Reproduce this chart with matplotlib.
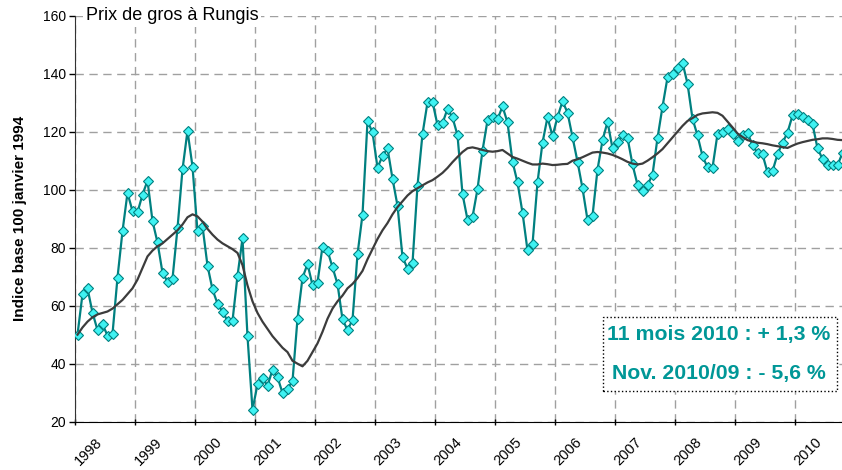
import numpy as np
import matplotlib.pyplot as plt
from matplotlib.patches import Rectangle

plt.rcParams['font.family'] = ['Liberation Sans', 'DejaVu Sans']

# indice mensuel, janvier 1998 -> novembre 2010
prix = [
    50, 64, 66, 57.6, 51.6, 53.6, 49.7, 50.3, 69.7, 85.7, 98.9, 92.6,          # 1998
    92.2, 98.3, 103.1, 89.2, 81.8, 71.4, 68.3, 69.3, 86.7, 107, 120.3, 108,   # 1999
    85.6, 87.4, 73.8, 65.6, 60.7, 57.9, 54.8, 54.8, 70.3, 83.2, 49.4, 24.1,   # 2000
    32.9, 35.2, 32.4, 37.9, 35.4, 29.9, 31.3, 34, 55.5, 69.6, 74.4, 67.1,     # 2001
    68, 80.4, 79, 73.2, 67.5, 55.3, 51.6, 55.1, 77.7, 91.4, 123.6, 119.8,     # 2002
    107.6, 111.6, 114.3, 103.8, 94.5, 76.8, 72.8, 74.7, 101.4, 119.2, 130.1, 130.3,  # 2003
    122.3, 122.9, 127.9, 124.9, 118.8, 98.5, 89.7, 90.6, 100.2, 113.5, 123.9, 124.9,  # 2004
    124.3, 128.7, 123.2, 109.7, 102.5, 92.1, 79.1, 81.2, 102.5, 116.2, 125, 118.5,    # 2005
    125, 130.5, 126.6, 118.2, 109.7, 100.5, 89.6, 91, 106.9, 117, 123.4, 114.3,       # 2006
    116.4, 118.7, 117.9, 108.7, 101.7, 99.7, 101.6, 105.2, 117.8, 128.6, 138.7, 139.9,  # 2007
    142.1, 143.8, 136.6, 124.5, 118.7, 111.6, 107.7, 107.6, 119.2, 120, 120.9, 119.2,   # 2008
    116.9, 118.8, 119.7, 115.3, 112.7, 112.2, 106, 106.4, 112.2, 116.2, 119.7, 125.6,   # 2009
    126.2, 125.2, 124.1, 122.6, 114.3, 110.6, 108.4, 108.4, 108.4, 112.7, 113,          # 2010
]

# courbe lissee
tendance = [
    50, 52.5, 54.5, 56, 57, 57.5, 58, 59, 60.5, 62, 64, 66,
    69, 73, 77, 79, 80.5, 81.5, 83, 84.5, 86, 88, 90.5, 91.5,
    90.8, 89, 86.5, 84.5, 82.8, 81.5, 80.5, 79.5, 78.2, 74, 67, 61.5,
    57.5, 54.5, 52, 49.5, 47.5, 45.5, 44, 41, 40, 39.1, 41, 44,
    47, 51, 55.5, 59, 61.5, 63.5, 66, 67.5, 69.5, 72, 76, 79.5,
    83, 86, 88.5, 91.5, 94, 96, 98, 99.5, 100.5, 101.5, 102.5, 103.3,
    104.5, 105.8, 107.5, 109.5, 111.3, 113, 114.3, 114.6, 114.2, 113.7, 113.3, 113.1,
    113.3, 113.7, 112.5, 111.3, 110.7, 110, 109.3, 108.7, 108.7, 109, 108.8, 108.5,
    108.6, 108.8, 108.9, 110, 110.5, 111.2, 112, 112.8, 113, 112.8, 112.5, 112,
    111.3, 110.5, 109.6, 109, 108.7, 109, 110, 111.2, 112.5, 114, 116, 118,
    120, 122, 123.7, 124.7, 125.8, 126.3, 126.5, 126.7, 126.5, 125.5, 123.5, 121.5,
    119.4, 118.2, 117.1, 116.6, 116.2, 116, 115.7, 115.3, 115, 114.7, 114.4, 115.2,
    115.9, 116.4, 116.8, 117.2, 117.4, 117.7, 117.7, 117.5, 117.2, 117.1, 117,
]

annees = [str(a) for a in range(1998, 2011)]

fig = plt.figure(figsize=(8.42, 4.70), dpi=100)
ax = fig.add_axes([75 / 842, 48.3 / 470, 775 / 842, 406 / 470])

mois = np.arange(len(prix))
ax.plot(mois, prix, color='#008080', lw=1.6, marker='D', ms=5.5,
        mfc='#3FF2F2', mec='#008080', mew=0.8, zorder=3)
ax.plot(mois, tendance, color='#3c3c3c', lw=1.6, zorder=4)

ax.set_xlim(-0.5, len(prix) - 0.5)
ax.set_ylim(20, 160)
ax.set_yticks(range(20, 161, 20))

# graduations aux changements d'annee, libelles au milieu
ax.set_xticks([12 * k - 0.5 for k in range(len(annees))])
ax.set_xticklabels([])
ax.set_xticks([12 * k + 3.5 for k in range(len(annees))], minor=True)
ax.set_xticklabels(annees, minor=True, rotation=45, ha='right',
                   rotation_mode='anchor', fontsize=10.5)
ax.tick_params(axis='x', which='major', direction='inout', length=5, width=1)
ax.tick_params(axis='x', which='minor', length=0, pad=9.5)
ax.tick_params(axis='y', direction='out', length=4.5, width=1, labelsize=10, pad=2)

ax.grid(True, which='major', color='#a0a0a0', ls=(0, (6, 4)), lw=1)
ax.set_axisbelow(True)
for s in ['top', 'right']:
    ax.spines[s].set_visible(False)
ax.spines['left'].set_color('#333333')
ax.spines['bottom'].set_color('black')

ax.set_ylabel('Indice base 100 janvier 1994', fontsize=11, fontweight='bold',
              labelpad=11)

ax.text(0.0142, 1.0, 'Prix de gros à Rungis', transform=ax.transAxes,
        fontsize=13, va='center', ha='left', zorder=5,
        bbox=dict(facecolor='white', edgecolor='none', pad=2))

# encadre des variations
ax.add_patch(Rectangle((0.681, 0.0757), 0.302, 0.183, transform=ax.transAxes,
                       facecolor='white', edgecolor='black', ls=':', lw=1,
                       zorder=5))
ax.text(0.8308, 0.2136, '11 mois 2010 : + 1,3 %', transform=ax.transAxes,
        ha='center', va='center', fontsize=15.3, fontweight='bold',
        color='#009797', zorder=6)
ax.text(0.8308, 0.1175, 'Nov. 2010/09 : - 5,6 %', transform=ax.transAxes,
        ha='center', va='center', fontsize=15.3, fontweight='bold',
        color='#009797', zorder=6)

fig.savefig('out.png', dpi=100)
